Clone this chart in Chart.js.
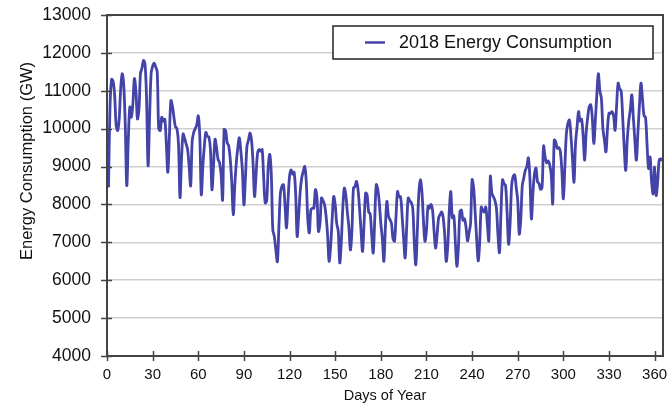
<!DOCTYPE html>
<html>
<head>
<meta charset="utf-8">
<script src="https://cdn.jsdelivr.net/npm/chart.js@4.4.0/dist/chart.umd.min.js"></script>
<style>
  html, body { margin: 0; padding: 0; background: #fff; }
  #wrap { width: 670px; height: 406px; }
</style>
</head>
<body>
<div id="wrap"><canvas id="chart" width="670" height="406"></canvas></div>
<script>
// daily consumption in GW, Jan 1 .. Dec 31 2018, one row per week
let consumption = [
  8450, 10600, 11300, 11250, 10900, 10100, 9950,
  10250, 11050, 11450, 11150, 10100, 8500, 9700,
  10570, 10300, 10650, 11320, 11000, 10260, 10500,
  11450, 11600, 11800, 11700, 10800, 9020, 10300,
  11450, 11650, 11730, 11630, 11500, 10000, 9950,
  10300, 10200, 10250, 9600, 8850, 9800, 10740,
  10600, 10300, 10050, 10000, 9600, 8180, 9200,
  9860, 9750, 9600, 9450, 9000, 8490, 9680,
  9900, 10000, 10100, 10340, 9800, 8260, 9000,
  9540, 9900, 9800, 9780, 9450, 8390, 9000,
  9720, 9500, 9190, 9100, 8800, 8120, 9980,
  9950, 9630, 9550, 9200, 8600, 7730, 8500,
  9100, 9500, 9760, 9400, 8900, 7990, 8700,
  9540, 9700, 9890, 9700, 9100, 8210, 8800,
  9360, 9450, 9400, 9450, 8700, 8040, 8100,
  9000, 9320, 8800, 7330, 7150, 6800, 6490,
  7400, 8300, 8480, 8520, 8000, 7380, 8100,
  8740, 8910, 8800, 8850, 8300, 7160, 7700,
  8340, 8700, 8870, 9000, 8600, 7600, 7250,
  7860, 7900, 7900, 8390, 8200, 7290, 7500,
  8170, 8100, 8000, 7700, 7200, 6500, 6900,
  7600, 8210, 8000, 7500, 7300, 6460, 7000,
  7900, 8430, 8250, 7800, 7400, 6800, 7300,
  8430, 8470, 8610, 8400, 7900, 7300, 6760,
  7500, 8300, 8250, 7800, 7750, 7200, 6720,
  7600, 8520, 8400, 8050, 7500, 7100, 6500,
  7400, 8080, 7700, 7600, 7500, 7100, 7030,
  7700, 8340, 8200, 8200, 7700, 7100, 6590,
  7400, 8170, 8100, 8050, 7900, 7000, 6410,
  7300, 8300, 8650, 8350, 7600, 7030, 7300,
  7950, 7900, 8000, 7850, 7300, 6850, 7200,
  7650, 7730, 7800, 7650, 7200, 6500, 6900,
  7810, 8340, 7650, 7700, 7000, 6370, 6870,
  7810, 7850, 7580, 7620, 7400, 7040, 7250,
  7500, 8650, 8450, 7800, 7100, 6510, 7000,
  7930, 7850, 7800, 7930, 7500, 7040, 8740,
  8300, 8200, 8110, 7900, 7200, 6730, 7800,
  8650, 8550, 8500, 7800, 6950, 7500, 8500,
  8740, 8780, 8450, 8100, 7220, 7600, 8500,
  8700, 8900, 9000, 9230, 8700, 7620, 8300,
  8800, 8960, 8600, 8550, 8400, 8450, 9540,
  9250, 9100, 9150, 9050, 8800, 8020, 9700,
  9650, 9480, 9500, 9400, 8900, 8150, 9000,
  9880, 10140, 10230, 9800, 9200, 8590, 9600,
  10050, 10450, 10200, 10250, 9800, 9170, 9900,
  10300, 10580, 10630, 10300, 9610, 10200, 10900,
  11450, 11000, 10800, 10000, 9700, 9390, 10000,
  10410, 10400, 10450, 10350, 9960, 10600, 11200,
  11050, 11000, 10300, 9500, 8900, 9700, 10200,
  10500, 10890, 10300, 9700, 9170, 9900, 10600,
  11200, 10800, 10350, 10300, 9600, 8950, 9250,
  8600, 8280, 8990, 8240, 8600, 9170, 9200,
  9150
];
let days = [];
for (let i = 0; i < consumption.length; i++) {
  days.push(i + 1);
}
let seriesName = '2018 Energy Consumption';
let yTitle = 'Energy Consumption (GW)';
let xTicks = [0, 30, 60, 90, 120, 150, 180, 210, 240, 270, 300, 330, 360];
let yTicks = [4000, 5000, 6000, 7000, 8000, 9000, 10000, 11000, 12000, 13000];

let lineColor = '#4343a8';
let fontFamily = '"Liberation Sans", Arial, sans-serif';

let points = [];
for (let i = 0; i < days.length; i++) {
  points.push({ x: days[i], y: consumption[i] });
}

// frame, crossing tick marks, y title and the boxed legend
let framePlugin = {
  id: 'frame',
  afterDraw(chart) {
    let ctx = chart.ctx;
    let a = chart.chartArea;
    let xs = chart.scales.x;
    let ys = chart.scales.y;
    ctx.save();
    ctx.strokeStyle = '#444';
    ctx.lineWidth = 1.5;
    xTicks.forEach(function (t) {
      let px = Math.round(xs.getPixelForValue(t)) + 0.5;
      ctx.beginPath();
      ctx.moveTo(px, a.bottom - 5);
      ctx.lineTo(px, a.bottom + 5);
      ctx.stroke();
    });
    yTicks.forEach(function (t) {
      let py = Math.round(ys.getPixelForValue(t)) + 0.5;
      ctx.beginPath();
      ctx.moveTo(a.left - 6, py);
      ctx.lineTo(a.left + 5, py);
      ctx.stroke();
    });
    ctx.lineWidth = 2;
    ctx.strokeRect(a.left, a.top, a.right - a.left, a.bottom - a.top);

    // y axis title, sits a bit above the middle like the original
    ctx.save();
    ctx.translate(27, 161);
    ctx.rotate(-Math.PI / 2);
    ctx.fillStyle = '#111';
    ctx.font = '16.5px ' + fontFamily;
    ctx.textAlign = 'center';
    ctx.textBaseline = 'middle';
    ctx.fillText(yTitle, 0, 0);
    ctx.restore();

    // legend box
    let bx = a.right - 330, by = a.top + 11, bw = 320, bh = 33;
    ctx.fillStyle = '#fff';
    ctx.fillRect(bx, by, bw, bh);
    ctx.strokeStyle = '#222';
    ctx.lineWidth = 1.5;
    ctx.strokeRect(bx, by, bw, bh);
    ctx.strokeStyle = lineColor;
    ctx.lineWidth = 2.5;
    ctx.beginPath();
    ctx.moveTo(bx + 32, by + bh / 2);
    ctx.lineTo(bx + 52, by + bh / 2);
    ctx.stroke();
    ctx.fillStyle = '#111';
    ctx.font = '18px ' + fontFamily;
    ctx.textBaseline = 'middle';
    ctx.textAlign = 'left';
    ctx.fillText(seriesName, bx + 66, by + bh / 2 + 1);
    ctx.restore();
  }
};

let ctx = document.getElementById('chart').getContext('2d');
let chart = new Chart(ctx, {
  type: 'line',
  data: {
    datasets: [{
      label: seriesName,
      data: points,
      borderColor: lineColor,
      borderWidth: 2.8,
      pointRadius: 0,
      tension: 0.35,
      fill: false
    }]
  },
  options: {
    responsive: false,
    animation: false,
    layout: { padding: { top: 15, right: 7, left: 0, bottom: 0 } },
    plugins: {
      legend: { display: false },
      tooltip: { enabled: false }
    },
    scales: {
      x: {
        type: 'linear',
        min: 0,
        max: 365.5,
        afterFit(scale) {
          scale.height = 50;
          scale.paddingLeft = 0;
          scale.paddingRight = 0;
        },
        grid: { display: false, drawTicks: false },
        border: { display: false },
        ticks: {
          stepSize: 30,
          includeBounds: false,
          maxRotation: 0,
          autoSkip: false,
          padding: 10,
          color: '#111',
          font: { family: fontFamily, size: 15 }
        },
        title: {
          display: true,
          text: 'Days of Year',
          color: '#111',
          padding: { top: 0, bottom: 1 },
          font: { family: fontFamily, size: 14.5 }
        }
      },
      y: {
        min: 4000,
        max: 13000,
        afterFit(scale) {
          scale.width = 107;
          scale.paddingTop = 0;
          scale.paddingBottom = 0;
        },
        grid: { color: '#cfcfcf', lineWidth: 1.5, drawTicks: false },
        border: { display: false },
        ticks: {
          stepSize: 1000,
          padding: 16,
          color: '#111',
          font: { family: fontFamily, size: 17.5 },
          callback: function (v) { return String(v); }
        }
      }
    }
  },
  plugins: [framePlugin]
});
</script>
</body>
</html>
